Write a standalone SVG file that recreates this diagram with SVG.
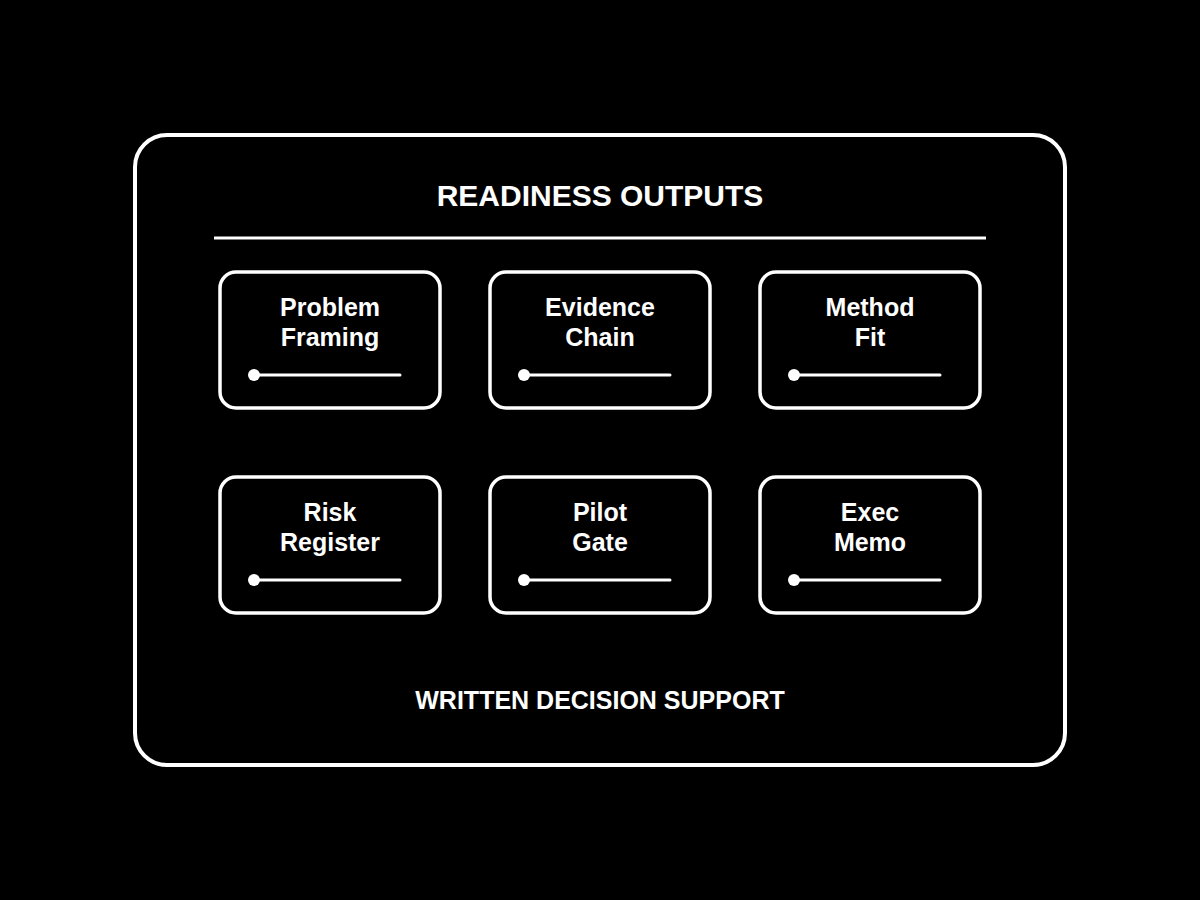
<svg xmlns="http://www.w3.org/2000/svg" width="1200" height="900" viewBox="0 0 1200 900">
<style>
.t{font-family:"Liberation Sans",Arial,sans-serif;font-weight:bold;fill:#fff;text-anchor:middle}
.card{fill:#000;stroke:#fff;stroke-width:3.5}
.bar{stroke:#fff;stroke-width:3;stroke-linecap:round}
.lbl{font-size:25px}
</style>
<rect width="1200" height="900" fill="#000"/>
<g id="frame">
<rect x="135" y="135" width="930" height="630" rx="32" fill="none" stroke="#fff" stroke-width="4"/>
<text class="t" x="600" y="206" font-size="30">READINESS OUTPUTS</text>
<line x1="214" y1="238" x2="986" y2="238" stroke="#fff" stroke-width="3"/>
<text class="t" x="600" y="709" font-size="25">WRITTEN DECISION SUPPORT</text>
</g>
<g id="connectors"></g>
<g id="problem-framing">
<rect class="card" x="220" y="272" width="220" height="136" rx="16"/>
<text class="t lbl" x="330" y="316">Problem</text>
<text class="t lbl" x="330" y="346">Framing</text>
<line class="bar" x1="254" y1="375" x2="400" y2="375"/><circle cx="254" cy="375" r="6" fill="#fff"/>
</g>
<g id="evidence-chain">
<rect class="card" x="490" y="272" width="220" height="136" rx="16"/>
<text class="t lbl" x="600" y="316">Evidence</text>
<text class="t lbl" x="600" y="346">Chain</text>
<line class="bar" x1="524" y1="375" x2="670" y2="375"/><circle cx="524" cy="375" r="6" fill="#fff"/>
</g>
<g id="method-fit">
<rect class="card" x="760" y="272" width="220" height="136" rx="16"/>
<text class="t lbl" x="870" y="316">Method</text>
<text class="t lbl" x="870" y="346">Fit</text>
<line class="bar" x1="794" y1="375" x2="940" y2="375"/><circle cx="794" cy="375" r="6" fill="#fff"/>
</g>
<g id="risk-register">
<rect class="card" x="220" y="477" width="220" height="136" rx="16"/>
<text class="t lbl" x="330" y="521">Risk</text>
<text class="t lbl" x="330" y="551">Register</text>
<line class="bar" x1="254" y1="580" x2="400" y2="580"/><circle cx="254" cy="580" r="6" fill="#fff"/>
</g>
<g id="pilot-gate">
<rect class="card" x="490" y="477" width="220" height="136" rx="16"/>
<text class="t lbl" x="600" y="521">Pilot</text>
<text class="t lbl" x="600" y="551">Gate</text>
<line class="bar" x1="524" y1="580" x2="670" y2="580"/><circle cx="524" cy="580" r="6" fill="#fff"/>
</g>
<g id="exec-memo">
<rect class="card" x="760" y="477" width="220" height="136" rx="16"/>
<text class="t lbl" x="870" y="521">Exec</text>
<text class="t lbl" x="870" y="551">Memo</text>
<line class="bar" x1="794" y1="580" x2="940" y2="580"/><circle cx="794" cy="580" r="6" fill="#fff"/>
</g>
</svg>
